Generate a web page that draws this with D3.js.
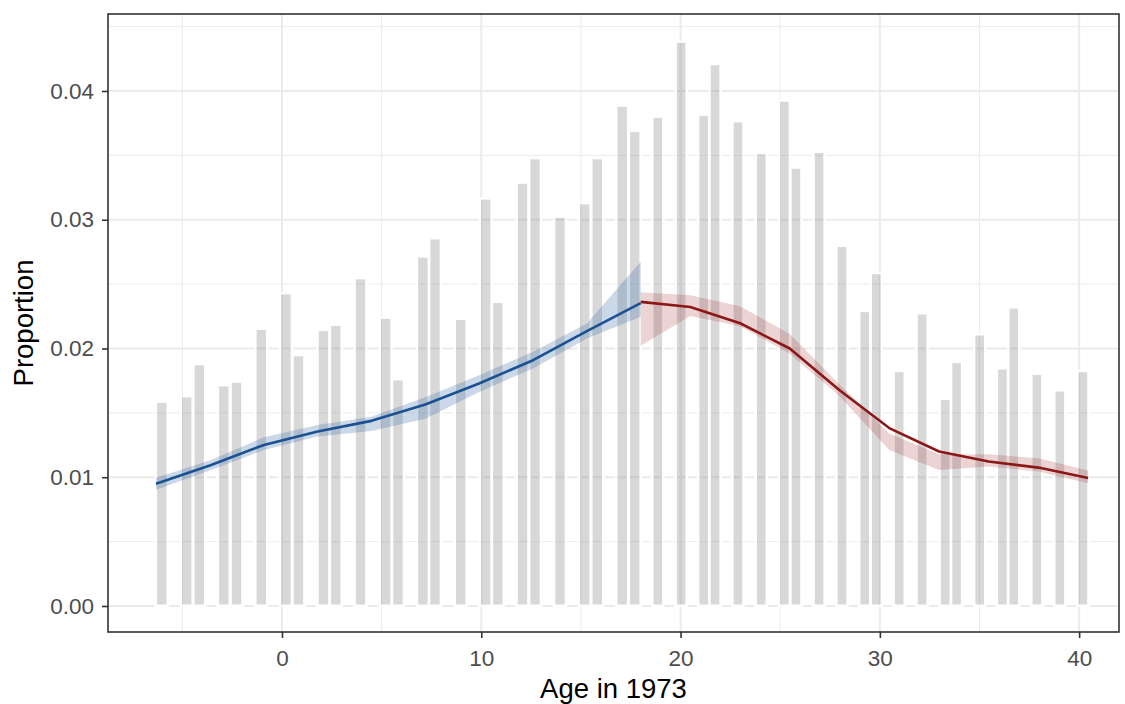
<!DOCTYPE html>
<html>
<head>
<meta charset="utf-8">
<script src="https://cdn.jsdelivr.net/npm/d3@7"></script>
<style>
  html, body { margin: 0; padding: 0; background: #ffffff; }
  svg { display: block; font-family: "Liberation Sans", Arial, Helvetica, sans-serif; }
</style>
</head>
<body>
<svg id="chart" width="1125" height="704"></svg>
<script>
// Share of respondents by age in 1973 (grey bars) with fitted trends before and after 18
const barAge = [-6.03, -4.78, -4.15, -2.92, -2.28, -1.04, 0.2, 0.83, 2.08, 2.7,
  3.94, 5.2, 5.82, 7.07, 7.68, 8.97, 10.22, 10.83, 12.07, 12.7,
  13.95, 15.19, 15.82, 17.07, 17.7,
  18.86, 20.03, 21.16, 21.73, 22.88, 24.05, 25.21, 25.79, 26.95, 28.10,
  29.24, 29.82, 30.97, 32.12, 33.28, 33.85, 35.01, 36.15, 36.72, 37.88,
  39.03, 40.19];
const barProp = [0.01577, 0.0162, 0.0187, 0.01706, 0.01733, 0.02144, 0.0242, 0.01939, 0.02135, 0.02175,
  0.02537, 0.0223, 0.01752, 0.02706, 0.02847, 0.02221, 0.03156, 0.02353, 0.03279, 0.03469,
  0.03015, 0.0312, 0.03469, 0.03877, 0.03681,
  0.03791, 0.04374, 0.03807, 0.042, 0.03755, 0.03509, 0.03917, 0.03396, 0.03518, 0.02788,
  0.02282, 0.02577, 0.01816, 0.02264, 0.01601, 0.01887, 0.02101, 0.01837, 0.0231, 0.01794,
  0.01666, 0.01816];

// Fit below 18
const blueAge = [-6.32, -3.62, -0.91, 1.79, 4.49, 7.19, 9.89, 12.6, 15.3, 18.0];
const blueFit = [0.0095, 0.01091, 0.01251, 0.01355, 0.01438, 0.01565, 0.01728, 0.01909, 0.02135, 0.02352];
const blueLo  = [0.00903, 0.01052, 0.01212, 0.01316, 0.0136, 0.01455, 0.01663, 0.01845, 0.02078, 0.02246];
const blueHi  = [0.00997, 0.0113, 0.01310, 0.01405, 0.01470, 0.01622, 0.01793, 0.01974, 0.02194, 0.02674];

// Fit from 18 on
const redAge = [18.0, 20.49, 22.99, 25.48, 27.98, 30.47, 32.97, 35.46, 37.96, 40.45];
const redFit = [0.02362, 0.02322, 0.02196, 0.0200, 0.01675, 0.01382, 0.01200, 0.01122, 0.01075, 0.00994];
const redLo  = [0.02021, 0.02252, 0.02172, 0.01960, 0.01630, 0.01212, 0.01057, 0.01083, 0.01044, 0.00953];
const redHi  = [0.02436, 0.02414, 0.02328, 0.02113, 0.01720, 0.01340, 0.01179, 0.01179, 0.01148, 0.01052];

const xTicks = [0, 10, 20, 30, 40];
const xMinor = [-5, 5, 15, 25, 35];
const yTicks = [0, 0.01, 0.02, 0.03, 0.04];
const yMinor = [0.005, 0.015, 0.025, 0.035, 0.045];

const svg = d3.select("#chart");
const panel = { left: 108, right: 1119, top: 14, bottom: 632 };

const x = d3.scaleLinear().domain([-8.73, 42.0]).range([panel.left, panel.right]);
const y = d3.scaleLinear().domain([-0.00202, 0.04598]).range([panel.bottom, panel.top]);

const grid = "#ebebeb";
const g = svg.append("g");

g.append("rect")
  .attr("x", panel.left).attr("y", panel.top)
  .attr("width", panel.right - panel.left).attr("height", panel.bottom - panel.top)
  .attr("fill", "#ffffff");

// minor grid
g.selectAll(".xminor").data(xMinor).join("line")
  .attr("x1", d => x(d)).attr("x2", d => x(d))
  .attr("y1", panel.top).attr("y2", panel.bottom)
  .attr("stroke", grid).attr("stroke-width", 1);
g.selectAll(".yminor").data(yMinor).join("line")
  .attr("y1", d => y(d)).attr("y2", d => y(d))
  .attr("x1", panel.left).attr("x2", panel.right)
  .attr("stroke", grid).attr("stroke-width", 1);
// major grid
g.selectAll(".xmajor").data(xTicks).join("line")
  .attr("x1", d => x(d)).attr("x2", d => x(d))
  .attr("y1", panel.top).attr("y2", panel.bottom)
  .attr("stroke", grid).attr("stroke-width", 2);
g.selectAll(".ymajor").data(yTicks).join("line")
  .attr("y1", d => y(d)).attr("y2", d => y(d))
  .attr("x1", panel.left).attr("x2", panel.right)
  .attr("stroke", grid).attr("stroke-width", 2);

// bars: white outline first, then translucent grey fill
const bars = barAge.map((a, i) => ({ age: a, prop: barProp[i] }));
const barW = d => (d.age < 18.3 ? 0.47 : 0.43);
const bx0 = d => x(d.age - barW(d) / 2);
const bx1 = d => x(d.age + barW(d) / 2);
const by0 = y(0) - 1.5;

g.selectAll(".halo").data(bars).join("rect")
  .attr("x", d => bx0(d) - 1.25)
  .attr("y", d => y(d.prop) - 1.25)
  .attr("width", d => bx1(d) - bx0(d) + 2.5)
  .attr("height", d => by0 - y(d.prop) + 2.5)
  .attr("fill", "none")
  .attr("stroke", "#ffffff")
  .attr("stroke-width", 2.5);

g.selectAll(".bar").data(bars).join("rect")
  .attr("x", d => bx0(d))
  .attr("y", d => y(d.prop))
  .attr("width", d => bx1(d) - bx0(d))
  .attr("height", d => by0 - y(d.prop))
  .attr("fill", "#7f7f7f")
  .attr("fill-opacity", 0.3);

// ribbons and fitted lines
function series(ages, fit, lo, hi) {
  return ages.map((a, i) => ({ age: a, fit: fit[i], lo: lo[i], hi: hi[i] }));
}
const blue = series(blueAge, blueFit, blueLo, blueHi);
const red = series(redAge, redFit, redLo, redHi);

const area = d3.area().x(d => x(d.age)).y0(d => y(d.lo)).y1(d => y(d.hi));
const line = d3.line().x(d => x(d.age)).y(d => y(d.fit));

g.append("path").attr("d", area(blue)).attr("fill", "#2e64a3").attr("fill-opacity", 0.25);
g.append("path").attr("d", area(red)).attr("fill", "#a32a2a").attr("fill-opacity", 0.2);
g.append("path").attr("d", line(blue)).attr("fill", "none")
  .attr("stroke", "#1a5193").attr("stroke-width", 2.6).attr("stroke-linejoin", "round");
g.append("path").attr("d", line(red)).attr("fill", "none")
  .attr("stroke", "#8b1717").attr("stroke-width", 2.6).attr("stroke-linejoin", "round");

// panel border
svg.append("rect")
  .attr("x", panel.left).attr("y", panel.top)
  .attr("width", panel.right - panel.left).attr("height", panel.bottom - panel.top)
  .attr("fill", "none").attr("stroke", "#333333").attr("stroke-width", 1.6);

// axes
const xAxis = d3.axisBottom(x).tickValues(xTicks).tickSize(6).tickPadding(12).tickFormat(d3.format("d"));
const yAxis = d3.axisLeft(y).tickValues(yTicks).tickSize(6).tickPadding(8).tickFormat(d3.format(".2f"));

const gx = svg.append("g").attr("transform", `translate(0,${panel.bottom})`).call(xAxis);
const gy = svg.append("g").attr("transform", `translate(${panel.left},0)`).call(yAxis);
[gx, gy].forEach(a => {
  a.select(".domain").remove();
  a.attr("font-size", null).attr("font-family", null);
  a.selectAll(".tick line").attr("stroke", "#333333").attr("stroke-width", 1.6);
  a.selectAll(".tick text").attr("fill", "#4d4d4d")
    .style("font-size", "22.5px").style("font-family", "'Liberation Sans', Arial, sans-serif");
});
gx.selectAll(".tick text").attr("dy", "0.71em");

svg.append("text")
  .attr("x", (panel.left + panel.right) / 2).attr("y", 698)
  .attr("text-anchor", "middle").attr("fill", "#000000")
  .style("font-size", "27.5px")
  .text("Age in 1973");

svg.append("text")
  .attr("transform", `translate(33,${(panel.top + panel.bottom) / 2}) rotate(-90)`)
  .attr("text-anchor", "middle").attr("fill", "#000000")
  .style("font-size", "27.5px")
  .text("Proportion");
</script>
</body>
</html>
